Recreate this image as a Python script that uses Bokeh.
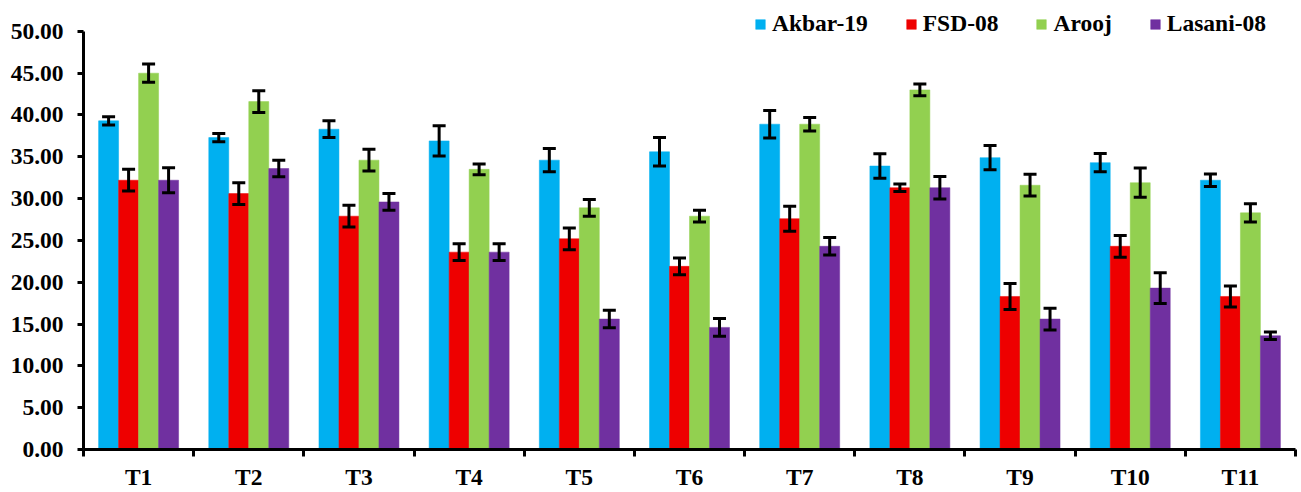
import numpy as np
from bokeh.plotting import figure
from bokeh.models import (ColumnDataSource, Whisker, TeeHead, FixedTicker,
                          NumeralTickFormatter, Range1d)
from bokeh.embed import file_html
from bokeh.resources import INLINE

# Treatments and the four cultivars (mean values with error bars)
categories = ["T1", "T2", "T3", "T4", "T5", "T6", "T7", "T8", "T9", "T10", "T11"]

akbar = [39.3, 37.3, 38.3, 36.9, 34.6, 35.6, 38.9, 33.9, 34.9, 34.3, 32.2]
akbar_err = [0.5, 0.5, 1.0, 1.8, 1.4, 1.7, 1.65, 1.45, 1.45, 1.1, 0.75]

fsd = [32.2, 30.6, 27.9, 23.6, 25.2, 21.9, 27.6, 31.3, 18.3, 24.3, 18.3]
fsd_err = [1.3, 1.3, 1.3, 1.0, 1.3, 1.0, 1.5, 0.45, 1.55, 1.3, 1.25]

arooj = [45.0, 41.6, 34.6, 33.5, 28.9, 27.9, 38.9, 43.0, 31.6, 31.9, 28.3]
arooj_err = [1.1, 1.3, 1.3, 0.65, 1.0, 0.7, 0.8, 0.7, 1.3, 1.75, 1.1]

lasani = [32.2, 33.6, 29.6, 23.6, 15.6, 14.6, 24.3, 31.3, 15.6, 19.3, 13.6]
lasani_err = [1.5, 1.0, 1.0, 1.0, 1.05, 1.05, 1.05, 1.35, 1.3, 1.85, 0.45]

series_names = ["Akbar-19", "FSD-08", "Arooj", "Lasani-08"]
colors = ["#00B0F0", "#EE0000", "#92D050", "#7030A0"]
y_ticks = [0, 5, 10, 15, 20, 25, 30, 35, 40, 45, 50]

FONT = "'Liberation Serif', 'Times New Roman', serif"
FONT_SIZE = "23.5px"

n = len(categories)
centers = np.arange(n) + 0.5
bar_w = 0.1815
offsets = [-1.5 * bar_w, -0.5 * bar_w, 0.5 * bar_w, 1.5 * bar_w]

p = figure(width=1301, height=492, output_backend="svg", toolbar_location=None,
           x_range=Range1d(0, n), y_range=Range1d(0, 53.69),
           min_border_left=83, min_border_right=6, min_border_top=0,
           min_border_bottom=41)

values = [akbar, fsd, arooj, lasani]
errors = [akbar_err, fsd_err, arooj_err, lasani_err]

for name, col, vals, errs, off in zip(series_names, colors, values, errors, offsets):
    v = np.array(vals)
    e = np.array(errs)
    src = ColumnDataSource(dict(x=centers + off, top=v, upper=v + e, lower=v - e))
    p.vbar(x="x", top="top", width=bar_w, source=src, fill_color=col,
           line_color=col, line_width=0.5, legend_label=name)
    w = Whisker(base="x", upper="upper", lower="lower", source=src,
                dimension="height", line_color="black", line_width=3,
                level="annotation",
                upper_head=TeeHead(size=13, line_width=3, line_color="black"),
                lower_head=TeeHead(size=13, line_width=3, line_color="black"))
    p.add_layout(w)

# x axis: labels at category centres, ticks at category boundaries
xa = p.xaxis[0]
xa.ticker = FixedTicker(ticks=list(centers), minor_ticks=list(range(n + 1)))
xa.major_label_overrides = {float(c): lab for c, lab in zip(centers, categories)}
xa.major_tick_out = 0
xa.major_tick_in = 0
xa.minor_tick_out = 7
xa.minor_tick_in = 0
xa.minor_tick_line_width = 3
xa.minor_tick_line_color = "black"
xa.axis_line_width = 3
xa.axis_line_color = "black"
xa.major_label_text_font = FONT
xa.major_label_text_font_style = "bold"
xa.major_label_text_font_size = FONT_SIZE
xa.major_label_text_color = "black"
xa.major_label_standoff = 7

ya = p.yaxis[0]
ya.ticker = FixedTicker(ticks=y_ticks)
ya.bounds = (0, 50)
ya.formatter = NumeralTickFormatter(format="0.00")
ya.major_tick_out = 6
ya.major_tick_in = 0
ya.major_tick_line_width = 3
ya.minor_tick_line_color = None
ya.axis_line_width = 3
ya.axis_line_color = "black"
ya.major_label_text_font = FONT
ya.major_label_text_font_style = "bold"
ya.major_label_text_font_size = FONT_SIZE
ya.major_label_text_color = "black"
ya.major_label_standoff = 14

p.xgrid.grid_line_color = None
p.ygrid.grid_line_color = None
p.outline_line_color = None

leg = p.legend[0]
leg.orientation = "horizontal"
leg.location = (671, 412)
leg.glyph_width = 12
leg.glyph_height = 12
leg.label_standoff = 6
leg.spacing = 37
leg.padding = 0
leg.margin = 0
leg.border_line_alpha = 0
leg.background_fill_alpha = 0
leg.label_text_font = FONT
leg.label_text_font_style = "bold"
leg.label_text_font_size = FONT_SIZE
leg.label_text_color = "black"

open("out.html", "w").write(file_html(p, INLINE))
